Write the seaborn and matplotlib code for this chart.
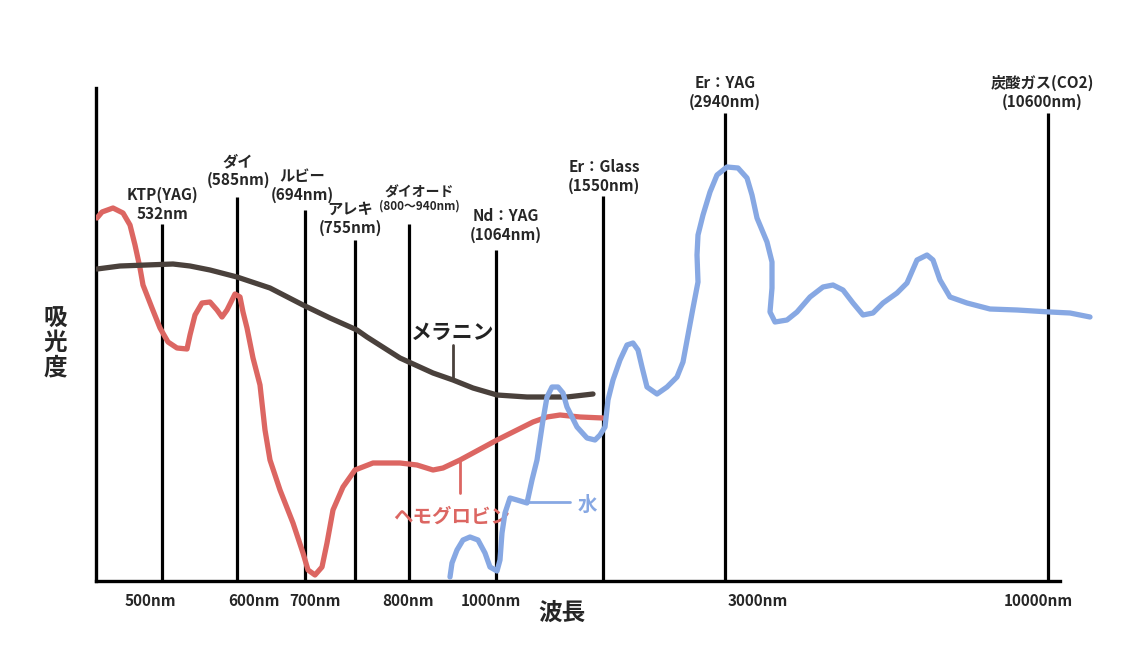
import matplotlib
matplotlib.use("Agg")
import matplotlib.pyplot as plt
import seaborn as sns
import pandas as pd

# hand drawn absorption spectrum: x = position along wavelength axis, y = absorbance (arbitrary)
hemo_x = [1, 6, 17, 27, 34, 39, 44, 47, 56, 64, 72, 81, 91, 94, 99, 106, 114, 121, 126, 131,
          139, 144, 147, 151, 157, 164, 169, 174, 184, 197, 207, 212, 219, 226, 231, 237, 247,
          259, 277, 304, 321, 337, 347, 364, 401, 437, 451, 464, 484, 507]
hemo_y = [363, 369, 373, 368, 356, 336, 313, 296, 273, 253, 239, 233, 232, 246, 266, 278, 279,
          271, 264, 271, 287, 284, 269, 253, 223, 196, 151, 121, 91, 58, 28, 11, 6, 14, 38, 71,
          94, 111, 118, 118, 116, 111, 113, 121, 141, 159, 164, 166, 164, 163]

melanin_x = [1, 24, 77, 94, 114, 141, 174, 207, 234, 261, 271, 304, 337, 357, 377, 401, 431, 471, 497]
melanin_y = [312, 315, 317, 315, 311, 304, 293, 276, 263, 251, 244, 223, 208, 201, 193, 186, 184, 184, 187]

water_x = [354, 356, 361, 367, 374, 382, 389, 394, 401, 404, 406, 409, 414, 421, 431, 436, 441,
           447, 451, 456, 462, 467, 471, 481, 491, 499, 504, 509, 512, 517, 524, 531, 537, 542,
           546, 551, 561, 571, 581, 587, 592, 597, 602, 601, 602, 607, 614, 621, 631, 642, 651,
           656, 661, 671, 676, 676, 674, 679, 691, 701, 714, 727, 737, 747, 757, 767, 777, 787,
           801, 811, 821, 831, 837, 844, 854, 871, 894, 921, 954, 974, 994]
water_y = [4, 18, 31, 41, 44, 41, 28, 14, 10, 21, 48, 68, 83, 81, 78, 101, 121, 161, 184, 194,
           194, 188, 174, 154, 143, 141, 146, 154, 181, 201, 221, 236, 238, 231, 214, 194, 187,
           194, 204, 219, 246, 273, 299, 326, 346, 366, 389, 406, 414, 413, 403, 386, 363, 339,
           319, 293, 269, 259, 261, 269, 284, 294, 296, 291, 278, 266, 268, 278, 288, 298, 321,
           326, 321, 301, 284, 278, 272, 271, 269, 268, 264]

# lasers: name, wavelength text, position on axis, height of marker line
laser_names = ["KTP(YAG)", "ダイ", "ルビー", "アレキ", "ダイオード", "Nd：YAG", "Er：Glass", "Er：YAG", "炭酸ガス(CO2)"]
laser_wl = ["532nm", "(585nm)", "(694nm)", "(755nm)", "(800〜940nm)", "(1064nm)", "(1550nm)", "(2940nm)", "(10600nm)"]
laser_x = [66, 141, 209, 259, 313, 400, 507, 629, 952]
laser_top = [357, 384, 371, 341, 357, 331, 385, 468, 468]

tick_x = [54, 158, 219, 312, 395, 662, 942]
tick_labels = ["500nm", "600nm", "700nm", "800nm", "1000nm", "3000nm", "10000nm"]

RED = "#dc6662"
BLUE = "#87a8e3"
BROWN = "#4a413c"

sns.set_theme(style="white")
plt.rcParams["font.family"] = ["Noto Sans CJK JP", "DejaVu Sans"]

fig = plt.figure(figsize=(11.39, 6.49), dpi=100)
ax = fig.add_axes([96 / 1139, 1 - 581 / 649, 1000 / 1139, 493 / 649])

curves = pd.concat([
    pd.DataFrame({"x": melanin_x, "y": melanin_y, "s": "メラニン"}),
    pd.DataFrame({"x": hemo_x, "y": hemo_y, "s": "ヘモグロビン"}),
    pd.DataFrame({"x": water_x, "y": water_y, "s": "水"}),
])
for name, color in [("ヘモグロビン", RED), ("メラニン", BROWN), ("水", BLUE)]:
    sub = curves[curves["s"] == name]
    sns.lineplot(data=sub, x="x", y="y", sort=False, estimator=None, color=color,
                 linewidth=3.8, ax=ax, solid_capstyle="round", solid_joinstyle="round",
                 zorder=3 if name != "水" else 4)

# laser marker lines
ax.vlines(laser_x, 0, laser_top, color="black", linewidth=2.3, zorder=2)

# laser labels (dx tweaks where the hand lettering sits off-centre)
dx = [0, 1, -3, -5, 10, 10, 1, 0, -6]
gap = [2, 9, 7, 4, 11, 7, 2, 3, 3]
for i, (name, wl) in enumerate(zip(laser_names, laser_wl)):
    x = laser_x[i] + dx[i]
    y = laser_top[i] + gap[i]
    if name == "ダイオード":
        ax.text(x, y, wl, ha="center", va="bottom", fontsize=8.5, fontweight="bold")
        ax.text(x, y + 14, name, ha="center", va="bottom", fontsize=10, fontweight="bold")
    else:
        ax.text(x, y, name + "\n" + wl, ha="center", va="bottom", fontsize=11,
                fontweight="bold", linespacing=1.2)

# curve name annotations
ax.plot([357, 357], [201, 236], color=BROWN, linewidth=2)
ax.text(357, 249, "メラニン", ha="center", va="center", fontsize=15, fontweight="bold", color="#222222")
ax.plot([364, 364], [121, 88], color=RED, linewidth=2)
ax.text(356, 64, "ヘモグロビン", ha="center", va="center", fontsize=14, fontweight="bold", color=RED)
ax.plot([432, 474], [79, 79], color=BLUE, linewidth=2)
ax.text(491, 76, "水", ha="center", va="center", fontsize=14, fontweight="bold", color=BLUE)

ax.set_xlim(0, 1000)
ax.set_ylim(0, 493)
ax.set_xticks(tick_x)
ax.set_xticklabels(tick_labels, fontsize=11, fontweight="bold")
ax.set_yticks([])
ax.tick_params(axis="x", length=0, pad=9)
ax.set_xlabel("")
ax.set_ylabel("")
for side in ["top", "right"]:
    ax.spines[side].set_visible(False)
for side in ["left", "bottom"]:
    ax.spines[side].set_linewidth(2.4)
    ax.spines[side].set_color("black")
ax.spines["bottom"].set_bounds(0, 964)

fig.text(562 / 1139, 1 - 613 / 649, "波長", ha="center", va="center", fontsize=17, fontweight="bold")
fig.text(55 / 1139, 1 - 343 / 649, "吸\n光\n度", ha="center", va="center", fontsize=17,
         fontweight="bold", linespacing=1.05)

fig.savefig("out.png", dpi=100, facecolor="white")
